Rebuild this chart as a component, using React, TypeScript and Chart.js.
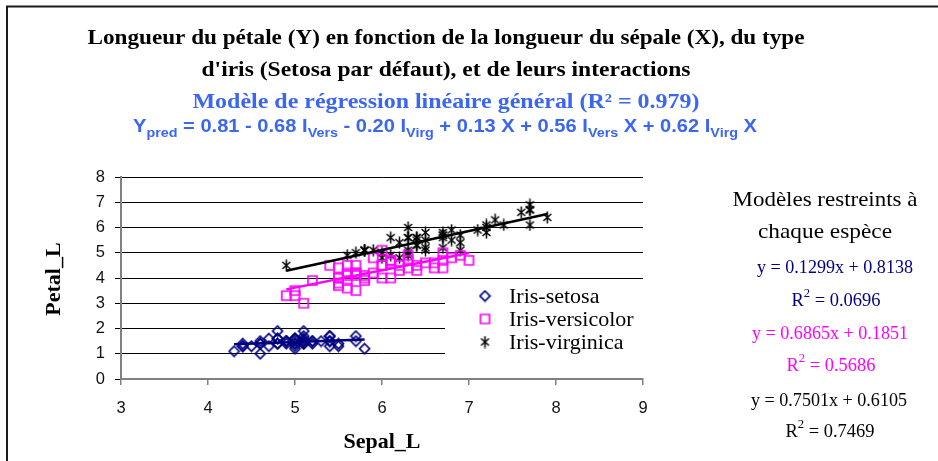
import React, { useEffect, useRef } from "react";
import { Chart, registerables } from "chart.js";

Chart.register(...registerables);

// ---------- DATA ----------
const speciesNames = ["Iris-setosa", "Iris-versicolor", "Iris-virginica"];

const setosaSepal = [5.1,4.9,4.7,4.6,5.0,5.4,4.6,5.0,4.4,4.9,5.4,4.8,4.8,4.3,5.8,5.7,5.4,5.1,5.7,5.1,5.4,5.1,4.6,5.1,4.8,5.0,5.0,5.2,5.2,4.7,4.8,5.4,5.2,5.5,4.9,5.0,5.5,4.9,4.4,5.1,5.0,4.5,4.4,5.0,5.1,4.8,5.1,4.6,5.3,5.0];
const setosaPetal = [1.4,1.4,1.3,1.5,1.4,1.7,1.4,1.5,1.4,1.5,1.5,1.6,1.4,1.1,1.2,1.5,1.3,1.4,1.7,1.5,1.7,1.5,1.0,1.7,1.9,1.6,1.6,1.5,1.4,1.6,1.6,1.5,1.5,1.4,1.5,1.2,1.3,1.5,1.3,1.5,1.3,1.3,1.3,1.6,1.9,1.4,1.6,1.4,1.5,1.4];

const versicolorSepal = [7.0,6.4,6.9,5.5,6.5,5.7,6.3,4.9,6.6,5.2,5.0,5.9,6.0,6.1,5.6,6.7,5.6,5.8,6.2,5.6,5.9,6.1,6.3,6.1,6.4,6.6,6.8,6.7,6.0,5.7,5.5,5.5,5.8,6.0,5.4,6.0,6.7,6.3,5.6,5.5,5.5,6.1,5.8,5.0,5.6,5.7,5.7,6.2,5.1,5.7];
const versicolorPetal = [4.7,4.5,4.9,4.0,4.6,4.5,4.7,3.3,4.6,3.9,3.5,4.2,4.0,4.7,3.6,4.4,4.5,4.1,4.5,3.9,4.8,4.0,4.9,4.7,4.3,4.4,4.8,5.0,4.5,3.5,3.8,3.7,3.9,5.1,4.5,4.5,4.7,4.4,4.1,4.0,4.4,4.6,4.0,3.3,4.2,4.2,4.2,4.3,3.0,4.1];

const virginicaSepal = [6.3,5.8,7.1,6.3,6.5,7.6,4.9,7.3,6.7,7.2,6.5,6.4,6.8,5.7,5.8,6.4,6.5,7.7,7.7,6.0,6.9,5.6,7.7,6.3,6.7,7.2,6.2,6.1,6.4,7.2,7.4,7.9,6.4,6.3,6.1,7.7,6.3,6.4,6.0,6.9,6.7,6.9,5.8,6.8,6.7,6.7,6.3,6.5,6.2,5.9];
const virginicaPetal = [6.0,5.1,5.9,5.6,5.8,6.6,4.5,6.3,5.8,6.1,5.1,5.3,5.5,5.0,5.1,5.3,5.5,6.7,6.9,5.0,5.7,4.9,6.7,4.9,5.7,6.0,4.8,4.9,5.6,5.8,6.1,6.4,5.6,5.1,5.6,6.1,5.6,5.5,4.8,5.4,5.6,5.1,5.1,5.9,5.7,5.2,5.0,5.2,5.4,5.1];

const trendSlopes = [0.1299, 0.6865, 0.7501];
const trendIntercepts = [0.8138, 0.1851, 0.6105];
const trendR2 = ["0.0696", "0.5686", "0.7469"];

const xMin = 3, xMax = 9, xStep = 1;
const yMin = 0, yMax = 8, yStep = 1;

const titleLine1 = "Longueur du pétale (Y) en fonction de la longueur du sépale (X), du type";
const titleLine2 = "d'iris (Setosa par défaut), et de leurs interactions";
const subtitle = "Modèle de régression linéaire général (R² = 0.979)";
const xTitle = "Sepal_L";
const yTitle = "Petal_L";
const sideTitle = ["Modèles restreints à", "chaque espèce"];

// ---------- STYLE ----------
const W = 938, H = 461;
const SERIF = "'Liberation Serif', 'Times New Roman', serif";
const SANS = "'Liberation Sans', Arial, sans-serif";
const BLUE = "#3b66f2";
const colors = ["#000080", "#ff00ff", "#000000"];

type Seg = { t: string; mode?: "sub" | "sup" };

function drawSegs(
  ctx: CanvasRenderingContext2D,
  segs: Seg[],
  o: { cx: number; y: number; family: string; weight: string; size: number; small: number; color: string; width?: number }
) {
  const fontFor = (m?: string) => `${o.weight} ${m ? o.small : o.size}px ${o.family}`;
  let total = 0;
  const widths = segs.map((s) => {
    ctx.font = fontFor(s.mode);
    const w = ctx.measureText(s.t).width;
    total += w;
    return w;
  });
  const sx = o.width ? o.width / total : 1;
  ctx.save();
  ctx.translate(o.cx - (total * sx) / 2, o.y);
  ctx.scale(sx, 1);
  ctx.fillStyle = o.color;
  ctx.textAlign = "left";
  ctx.textBaseline = "alphabetic";
  let x = 0;
  segs.forEach((s, i) => {
    ctx.font = fontFor(s.mode);
    const dy = s.mode === "sub" ? o.size * 0.3 : s.mode === "sup" ? -o.size * 0.45 : 0;
    ctx.fillText(s.t, x, dy);
    x += widths[i];
  });
  ctx.restore();
}

function makeMarker(kind: string, color: string): HTMLCanvasElement {
  const c = document.createElement("canvas");
  c.width = 13;
  c.height = 13;
  const g = c.getContext("2d")!;
  g.strokeStyle = color;
  g.lineWidth = 1.7;
  g.beginPath();
  if (kind === "diamond") {
    g.moveTo(6.5, 1.5);
    g.lineTo(11.5, 6.5);
    g.lineTo(6.5, 11.5);
    g.lineTo(1.5, 6.5);
    g.closePath();
  } else if (kind === "square") {
    g.rect(2, 2, 9, 9);
  } else {
    g.lineWidth = 1.5;
    g.moveTo(2.5, 3);
    g.lineTo(10.5, 10);
    g.moveTo(10.5, 3);
    g.lineTo(2.5, 10);
    g.moveTo(6.5, 0.5);
    g.lineTo(6.5, 12.5);
  }
  g.stroke();
  return c;
}

export default function App() {
  const ref = useRef<HTMLCanvasElement | null>(null);

  useEffect(() => {
    if (!ref.current) return;
    const markers = [
      makeMarker("diamond", colors[0]),
      makeMarker("square", colors[1]),
      makeMarker("star", colors[2]),
    ];
    const xs = [setosaSepal, versicolorSepal, virginicaSepal];
    const ys = [setosaPetal, versicolorPetal, virginicaPetal];

    const pointSets = xs.map((arr, k) => ({
      label: speciesNames[k],
      data: arr.map((x, i) => ({ x, y: ys[k][i] })),
      pointStyle: markers[k] as any,
      pointRadius: 5,
      showLine: false,
      order: 2,
    }));
    const trendSets = xs.map((arr, k) => {
      const lo = Math.min(...arr);
      const hi = Math.max(...arr);
      return {
        label: speciesNames[k] + " trend",
        data: [lo, hi].map((x) => ({ x, y: trendSlopes[k] * x + trendIntercepts[k] })),
        showLine: true,
        borderColor: colors[k],
        borderWidth: 2.5,
        pointRadius: 0,
        order: 1,
      };
    });

    const textPlugin = {
      id: "texts",
      beforeDatasetsDraw(chart: any) {
        const ctx = chart.ctx as CanvasRenderingContext2D;
        ctx.save();
        ctx.fillStyle = "#ffffff";
        ctx.fillRect(445, 283, chart.chartArea.right - 445, 89);
        const rows = [296, 319, 342];
        speciesNames.forEach((name, k) => {
          const m = markers[k];
          ctx.drawImage(m, 485 - m.width / 2, rows[k] - m.height / 2);
          ctx.fillStyle = "#000";
          ctx.font = `22px ${SERIF}`;
          ctx.textAlign = "left";
          ctx.textBaseline = "alphabetic";
          ctx.fillText(name, 509, rows[k] + 7);
        });
        ctx.restore();
      },
      afterDraw(chart: any) {
        const ctx = chart.ctx as CanvasRenderingContext2D;
        // outer frame
        ctx.save();
        ctx.strokeStyle = "#1a1a1a";
        ctx.lineWidth = 2;
        ctx.strokeRect(7, 6.5, 1200, 1200);
        ctx.restore();

        const cx = 446;
        drawSegs(ctx, [{ t: titleLine1 }], { cx, y: 44, family: SERIF, weight: "bold", size: 21, small: 14, color: "#000", width: 717 });
        drawSegs(ctx, [{ t: titleLine2 }], { cx, y: 75.5, family: SERIF, weight: "bold", size: 21, small: 14, color: "#000", width: 489 });
        drawSegs(ctx, [{ t: subtitle }], { cx, y: 107.5, family: SERIF, weight: "bold", size: 21, small: 14, color: BLUE, width: 507 });
        drawSegs(
          ctx,
          [
            { t: "Y" }, { t: "pred", mode: "sub" },
            { t: " = 0.81 - 0.68 I" }, { t: "Vers", mode: "sub" },
            { t: " - 0.20 I" }, { t: "Virg", mode: "sub" },
            { t: " + 0.13 X + 0.56 I" }, { t: "Vers", mode: "sub" },
            { t: " X + 0.62 I" }, { t: "Virg", mode: "sub" },
            { t: " X" },
          ],
          { cx: 445, y: 132, family: SANS, weight: "bold", size: 17.5, small: 12.5, color: BLUE, width: 624 }
        );

        // axis titles
        drawSegs(ctx, [{ t: xTitle }], { cx: 382, y: 448, family: SERIF, weight: "bold", size: 22, small: 14, color: "#000" });
        ctx.save();
        ctx.translate(60, 279);
        ctx.rotate(-Math.PI / 2);
        drawSegs(ctx, [{ t: yTitle }], { cx: 0, y: 0, family: SERIF, weight: "bold", size: 22, small: 14, color: "#000" });
        ctx.restore();

        // side texts
        drawSegs(ctx, [{ t: sideTitle[0] }], { cx: 825, y: 206, family: SERIF, weight: "normal", size: 22, small: 14, color: "#000", width: 185 });
        drawSegs(ctx, [{ t: sideTitle[1] }], { cx: 825, y: 238, family: SERIF, weight: "normal", size: 22, small: 14, color: "#000", width: 134 });
        const eqCx = [835, 830, 829];
        const r2Cx = [836, 831, 830];
        const eqY = [273, 339, 406];
        const r2Y = [306, 371, 437];
        for (let k = 0; k < 3; k++) {
          drawSegs(ctx, [{ t: `y = ${trendSlopes[k].toFixed(4)}x + ${trendIntercepts[k].toFixed(4)}` }], {
            cx: eqCx[k], y: eqY[k], family: SERIF, weight: "normal", size: 19, small: 13, color: colors[k], width: 156,
          });
          drawSegs(ctx, [{ t: "R" }, { t: "2", mode: "sup" }, { t: ` = ${trendR2[k]}` }], {
            cx: r2Cx[k], y: r2Y[k], family: SERIF, weight: "normal", size: 19, small: 13, color: colors[k], width: 89,
          });
        }
      },
    };

    const chart = new Chart(ref.current, {
      type: "scatter",
      data: { datasets: [...trendSets, ...pointSets] as any },
      options: {
        responsive: false,
        animation: false,
        devicePixelRatio: 1,
        layout: { padding: { left: 0, top: 177, right: 295, bottom: 0 } },
        plugins: {
          legend: { display: false },
          tooltip: { enabled: false },
          title: { display: false },
        },
        scales: {
          x: {
            type: "linear",
            min: xMin,
            max: xMax,
            ticks: { stepSize: xStep, color: "#111", font: { family: SANS, size: 16.5 }, padding: 14 },
            grid: { drawOnChartArea: false, drawTicks: true, tickLength: 6, color: "#808080", lineWidth: 1.5 },
            border: { display: true, color: "#808080", width: 2 },
            afterFit: (s: any) => {
              s.height = 82;
            },
          },
          y: {
            type: "linear",
            min: yMin,
            max: yMax,
            ticks: { stepSize: yStep, color: "#111", font: { family: SANS, size: 16.5 }, padding: 10 },
            grid: {
              color: (c: any) => (c.tick && c.tick.value === 0 ? "rgba(0,0,0,0)" : "#000000"),
              tickColor: "#000000",
              tickLength: 6,
              lineWidth: 1,
            },
            border: { display: true, color: "#808080", width: 2 },
            afterFit: (s: any) => {
              s.width = 121;
            },
          },
        } as any,
      },
      plugins: [textPlugin],
    });
    return () => chart.destroy();
  }, []);

  return (
    <div style={{ position: "fixed", left: 0, top: 0, width: W, height: H, background: "#fff" }}>
      <canvas ref={ref} width={W} height={H} style={{ display: "block", width: W, height: H }} />
    </div>
  );
}
